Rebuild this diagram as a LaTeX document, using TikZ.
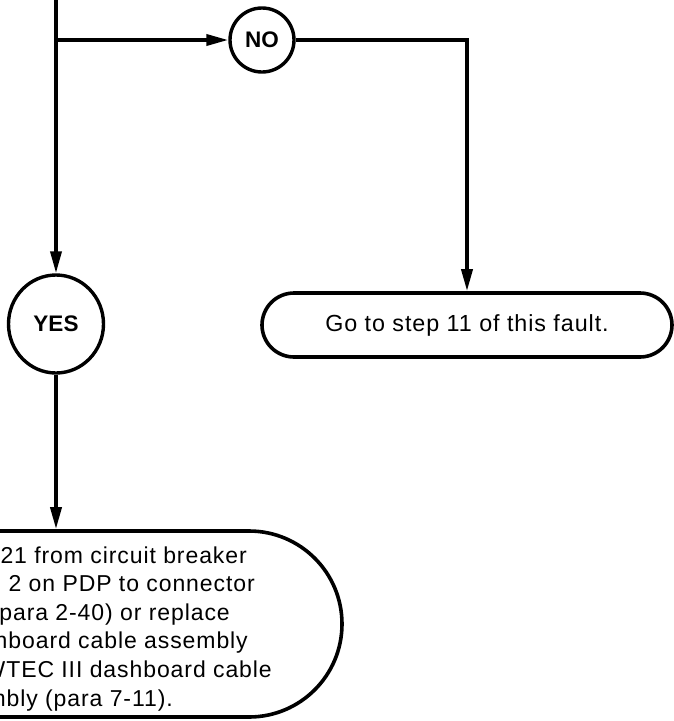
\documentclass[tikz,border=0pt]{standalone}
\usepackage{fontspec}
\setmainfont{Liberation Sans}
\newfontfamily\bodyfont[LetterSpace=4]{Liberation Sans}
\usetikzlibrary{arrows.meta,shapes.geometric}
\tikzset{
  flow/.style={line width=3.6pt},
  arr/.style={flow,-{Triangle[length=22pt,width=11pt]}},
  answer/.style={draw,line width=3.4pt,ellipse,inner sep=0pt,font=\fontsize{22.5}{26}\selectfont\bfseries},
  stepbox/.style={draw,line width=3.6pt,rectangle,inner sep=0pt,font=\bodyfont\fontsize{23.3}{28.6}\selectfont},
  boxline/.style={anchor=base east,inner sep=0pt,font=\bodyfont\fontsize{23}{28.6}\selectfont}
}
\begin{document}
\begin{tikzpicture}[x=1pt,y=-1pt]
\useasboundingbox (0,0) rectangle (674,721);
\clip (0,0) rectangle (674,721);
\coordinate (top) at (56,-5);
\coordinate (split) at (56,40);
\node[answer,minimum width=64pt,minimum height=64pt] (no) at (262,40) {NO};
\node[answer,minimum width=95pt,minimum height=98pt] (yes) at (56,324) {YES};
\node[stepbox,rounded corners=32pt,minimum width=410pt,minimum height=64pt] (go) at (467,325) {Go to step 11 of this fault.};
\node[stepbox,rounded corners=93pt,minimum width=682pt,minimum height=186pt] (fix) at (1,624) {};
\draw[arr] (top) -- (yes.north);
\draw[arr] (split) -- (no.west);
\draw[arr] (no.east) -| (go.north);
\draw[arr] (yes.south) -- (yes.south |- fix.north);
\node[boxline] (l1) at (247,563) {21 from circuit breaker};
\node[boxline] (l2) at (255,591.6) {2 on PDP to connector};
\node[boxline] (l3) at (230,620.2) {(para 2-40) or replace};
\node[boxline] (l4) at (248,648.8) {hboard cable assembly};
\node[boxline] (l5) at (272,677.4) {WTEC III dashboard cable};
\node[boxline] (l6) at (173,706) {mbly (para 7-11).};
\end{tikzpicture}
\end{document}
